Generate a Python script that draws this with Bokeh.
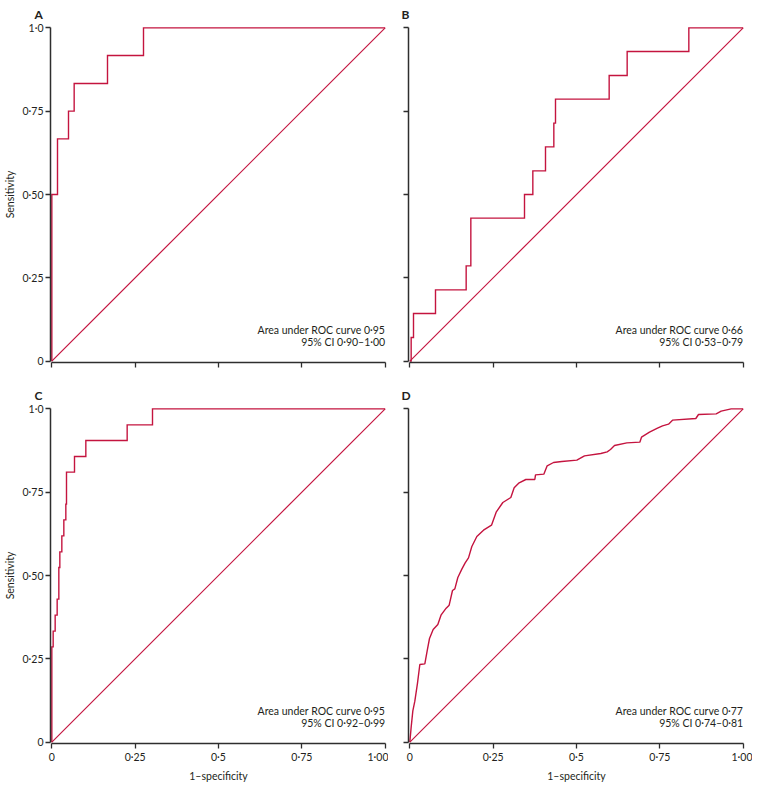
from bokeh.plotting import figure
from bokeh.models import Range1d, FixedTicker, Title
from bokeh.layouts import column, row
from bokeh.core.properties import value
from bokeh.embed import file_html
from bokeh.resources import INLINE

# ---------------- data ----------------
TICKS = [0, 0.25, 0.5, 0.75, 1.0]
Y_TICK_LABELS = ["0", "0·25", "0·50", "0·75", "1·0"]
X_TICK_LABELS = ["0", "0·25", "0·5", "0·75", "1·00"]

diag_x = [0, 1]
diag_y = [0, 1]

# Panel A (ROC corner points, step 'after')
a_fpr = [0.0, 0.0, 0.017, 0.050, 0.067, 0.167, 0.275, 1.0]
a_tpr = [0.0, 0.500, 0.667, 0.750, 0.833, 0.917, 1.000, 1.0]
a_text = ["Area under ROC curve 0·95", "95% CI 0·90–1·00"]

# Panel B
b_fpr = [0.0, 0.004, 0.011, 0.077, 0.169, 0.183, 0.344, 0.369, 0.407, 0.432, 0.437, 0.598, 0.652, 0.837, 1.0]
b_tpr = [0.0, 0.071, 0.143, 0.214, 0.286, 0.429, 0.500, 0.571, 0.643, 0.714, 0.786, 0.857, 0.929, 1.000, 1.0]
b_text = ["Area under ROC curve 0·66", "95% CI 0·53–0·79"]

# Panel C
c_fpr = [0.0, 0.0, 0.004, 0.010, 0.016, 0.021, 0.024, 0.030, 0.036, 0.042, 0.044, 0.068, 0.102, 0.226, 0.302, 1.0]
c_tpr = [0.0, 0.286, 0.333, 0.381, 0.429, 0.524, 0.571, 0.619, 0.667, 0.714, 0.810, 0.857, 0.905, 0.952, 1.000, 1.0]
c_text = ["Area under ROC curve 0·95", "95% CI 0·92–0·99"]

# Panel D (traced polyline)
d_fpr = [0.0, 0.004, 0.009, 0.015, 0.023, 0.030, 0.045, 0.052, 0.059, 0.070, 0.084, 0.094,
         0.109, 0.118, 0.128, 0.135, 0.144, 0.156, 0.166, 0.176, 0.186, 0.201, 0.221, 0.245,
         0.259, 0.279, 0.303, 0.313, 0.328, 0.348, 0.375, 0.377, 0.402, 0.412, 0.431, 0.456,
         0.501, 0.524, 0.573, 0.592, 0.602, 0.614, 0.651, 0.690, 0.695, 0.719, 0.743, 0.758,
         0.776, 0.788, 0.858, 0.866, 0.919, 0.934, 0.964, 1.0]
d_tpr = [0.0, 0.045, 0.094, 0.123, 0.177, 0.233, 0.235, 0.274, 0.311, 0.338, 0.353, 0.382,
         0.402, 0.411, 0.455, 0.460, 0.494, 0.519, 0.538, 0.553, 0.587, 0.617, 0.636, 0.651,
         0.690, 0.719, 0.734, 0.763, 0.778, 0.788, 0.788, 0.802, 0.804, 0.829, 0.839, 0.842,
         0.846, 0.859, 0.866, 0.871, 0.878, 0.890, 0.898, 0.900, 0.915, 0.930, 0.942, 0.949,
         0.954, 0.966, 0.971, 0.983, 0.985, 0.993, 1.0, 1.0]
d_text = ["Area under ROC curve 0·77", "95% CI 0·74–0·81"]

text_y = [0.095, 0.058]

# ---------------- styling ----------------
RED = "#C4143F"
AX = "#2E2E2E"
FONT = "Lato"


def style_axis(ax, labels, show_labels):
    ax.ticker = FixedTicker(ticks=TICKS)
    ax.bounds = (0, 1)
    ax.axis_line_color = AX
    ax.axis_line_width = 1.5
    ax.major_tick_line_color = AX
    ax.major_tick_line_width = 1.3
    ax.major_tick_out = 5
    ax.major_tick_in = 0
    ax.minor_tick_line_color = None
    ax.major_label_standoff = 2
    ax.major_label_text_font = FONT
    ax.major_label_text_color = "#231F20"
    if show_labels:
        ax.major_label_overrides = {t: l for t, l in zip(TICKS, labels)}
        ax.major_label_text_font_size = "10.5px"
    else:
        ax.major_label_overrides = {t: "" for t in TICKS}
        ax.major_label_text_font_size = "0px"
    ax.axis_label_text_font = FONT
    ax.axis_label_text_font_size = "10.5px"
    ax.axis_label_text_font_style = "normal"
    ax.axis_label_text_color = "#231F20"
    ax.axis_label_standoff = 4


def make_panel(label, fpr, tpr, texts, left, bottom, step, tb, bb, lb, rb, toff):
    t = Title(text=label, align="left", offset=toff, standoff=9,
              text_font=FONT, text_font_size="12px", text_font_style="bold",
              text_color="#231F20")
    p = figure(frame_width=336, frame_height=336, title=t,
               x_range=Range1d(-0.004, 1.004), y_range=Range1d(-0.004, 1.004),
               output_backend="svg", toolbar_location=None,
               min_border_top=tb, min_border_bottom=bb,
               min_border_left=lb, min_border_right=rb)
    p.outline_line_color = None
    p.xgrid.visible = False
    p.ygrid.visible = False
    p.background_fill_color = "white"
    p.border_fill_color = "white"

    style_axis(p.yaxis[0], Y_TICK_LABELS, left)
    style_axis(p.xaxis[0], X_TICK_LABELS, bottom)
    if left:
        p.yaxis[0].axis_label = "Sensitivity"
    if bottom:
        p.xaxis[0].axis_label = "1–specificity"

    p.line(diag_x, diag_y, line_color=RED, line_width=1.2)
    if step:
        p.step(fpr, tpr, mode="after", line_color=RED, line_width=1.4,
               line_join="miter")
    else:
        p.line(fpr, tpr, line_color=RED, line_width=1.4)

    p.text(x=[1.0, 1.0], y=text_y, text=texts, text_align="right",
           text_baseline="middle", text_font=value(FONT),
           text_font_size="10.5px", text_color="#231F20")
    return p


pA = make_panel("A", a_fpr, a_tpr, a_text, True, False, True, 24, 10, 40, 2, -16)
pB = make_panel("B", b_fpr, b_tpr, b_text, False, False, True, 24, 10, 20, 8, -7)
pC = make_panel("C", c_fpr, c_tpr, c_text, True, True, True, 35, 34, 40, 2, -16)
pD = make_panel("D", d_fpr, d_tpr, d_text, False, True, False, 35, 34, 20, 8, -7)

layout = column(row(pA, pB), row(pC, pD))

open("out.html", "w").write(file_html(layout, INLINE))
